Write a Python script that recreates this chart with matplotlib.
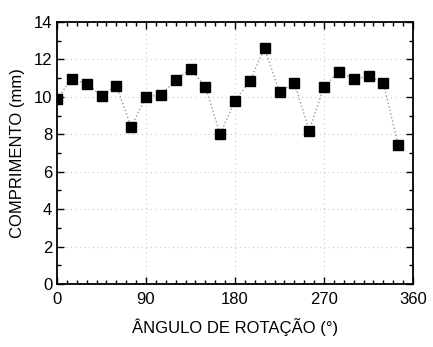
import matplotlib
matplotlib.use("Agg")
import matplotlib.pyplot as plt
from matplotlib.ticker import MultipleLocator

angles = [0, 15, 30, 45, 60, 75, 90, 105, 120, 135, 150, 165,
          180, 195, 210, 225, 240, 255, 270, 285, 300, 315, 330, 345]
lengths = [9.9, 10.95, 10.7, 10.05, 10.6, 8.4, 10.0, 10.1, 10.9, 11.5, 10.55, 8.0,
           9.8, 10.85, 12.6, 10.25, 10.75, 8.2, 10.55, 11.35, 10.95, 11.1, 10.75, 7.45]
xticks = [0, 90, 180, 270, 360]
yticks = [0, 2, 4, 6, 8, 10, 12, 14]

plt.rcParams['font.family'] = ['Liberation Sans', 'DejaVu Sans']

fig = plt.figure(figsize=(4.33, 3.47), dpi=100)
ax = fig.add_axes([57/433, 1-284/347, (413-57)/433, (284-22)/347])

ax.plot(angles, lengths, linestyle=':', color='#999999', linewidth=1.0,
        marker='s', markersize=6.5, markerfacecolor='black', markeredgecolor='black', zorder=3)

ax.set_xlim(0, 360)
ax.set_ylim(0, 14)
ax.set_xticks(xticks)
ax.set_yticks(yticks)
ax.xaxis.set_minor_locator(MultipleLocator(10))
ax.yaxis.set_minor_locator(MultipleLocator(1))
ax.tick_params(which='both', direction='in', top=True, right=True, labelsize=12, width=1)
ax.tick_params(which='major', length=5)
ax.tick_params(which='minor', length=3)
ax.tick_params(axis='x', pad=6)
ax.grid(True, which='major', linestyle=(0, (1, 3)), color='#c8c8c8', linewidth=0.8)
for s in ax.spines.values():
    s.set_linewidth(1.3)

ax.set_xlabel('ÂNGULO DE ROTAÇÃO (°)', fontsize=12, labelpad=8)
ax.set_ylabel('COMPRIMENTO (mm)', fontsize=12, labelpad=6)

fig.savefig('out.png', dpi=100)
